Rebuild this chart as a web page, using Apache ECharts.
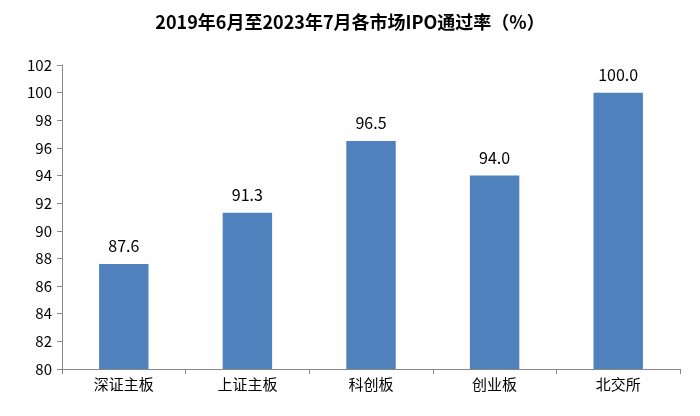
<!DOCTYPE html>
<html>
<head>
<meta charset="utf-8">
<script src="https://cdn.jsdelivr.net/npm/echarts@6/dist/echarts.min.js"></script>
<style>html,body{margin:0;padding:0;background:#fff}#chart{width:700px;height:416px}</style>
</head>
<body>
<div id="chart"></div>
<script>
const categories = ['深证主板', '上证主板', '科创板', '创业板', '北交所'];
const passRates = [87.6, 91.3, 96.5, 94.0, 100.0];
const yMin = 80, yMax = 102, yStep = 2;

const chart = echarts.init(document.getElementById('chart'));
chart.setOption({
    backgroundColor: '#fff',
    animation: false,
    title: {
        text: '2019年6月至2023年7月各市场IPO通过率（%）',
        left: 'center',
        top: 8,
        textStyle: { fontFamily: 'Noto Sans CJK SC', fontSize: 18, fontWeight: 'bold', color: '#000' }
    },
    grid: { left: 62, right: 20, top: 65, bottom: 47 },
    xAxis: {
        type: 'category',
        data: categories,
        axisLine: { lineStyle: { color: '#888' } },
        axisTick: { show: true, length: 5, lineStyle: { color: '#888' } },
        axisLabel: { color: '#000', fontSize: 15, fontFamily: 'Noto Sans CJK SC', margin: 8 }
    },
    yAxis: {
        type: 'value',
        min: yMin,
        max: yMax,
        interval: yStep,
        axisLine: { show: true, lineStyle: { color: '#888' } },
        axisTick: { show: true, length: 5, lineStyle: { color: '#888' } },
        splitLine: { show: false },
        axisLabel: { color: '#000', fontSize: 15, fontFamily: 'Noto Sans CJK SC', margin: 10 }
    },
    series: [{
        type: 'bar',
        data: passRates,
        barWidth: '40%',
        itemStyle: { color: '#4F81BD' },
        label: {
            show: true,
            position: 'top',
            distance: 10,
            formatter: p => p.value.toFixed(1),
            color: '#000',
            fontSize: 16,
            fontFamily: 'Noto Sans CJK SC'
        }
    }]
});
</script>
</body>
</html>
